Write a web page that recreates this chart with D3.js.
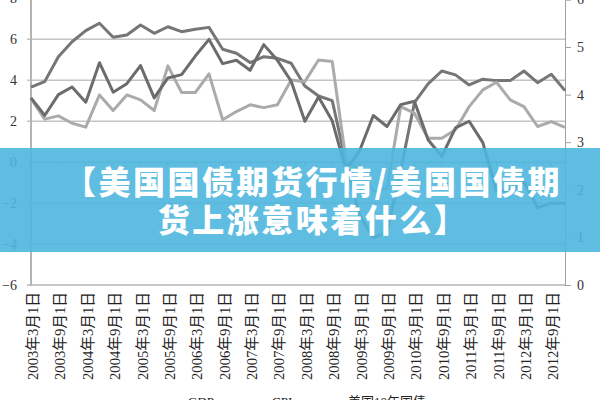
<!DOCTYPE html>
<html><head><meta charset="utf-8">
<script src="https://cdn.jsdelivr.net/npm/d3@7"></script>
<style>html,body{margin:0;padding:0;background:#fff;overflow:hidden}</style>
</head><body>
<svg id="c" width="600" height="400"></svg>
<script>
const categories = [
"2003年3月1日","2003年6月1日","2003年9月1日","2003年12月1日",
"2004年3月1日","2004年6月1日","2004年9月1日","2004年12月1日",
"2005年3月1日","2005年6月1日","2005年9月1日","2005年12月1日",
"2006年3月1日","2006年6月1日","2006年9月1日","2006年12月1日",
"2007年3月1日","2007年6月1日","2007年9月1日","2007年12月1日",
"2008年3月1日","2008年6月1日","2008年9月1日","2008年12月1日",
"2009年3月1日","2009年6月1日","2009年9月1日","2009年12月1日",
"2010年3月1日","2010年6月1日","2010年9月1日","2010年12月1日",
"2011年3月1日","2011年6月1日","2011年9月1日","2011年12月1日",
"2012年3月1日","2012年6月1日","2012年9月1日","2012年12月1日"];
const gdp = [3.66,3.93,5.15,5.88,6.42,6.78,6.10,6.21,6.70,6.29,6.61,6.37,6.49,6.58,5.51,5.32,4.86,5.15,5.07,4.83,
 3.72,3.23,3.00,0.00,-2.6,-3.7,-3.4,-0.4,2.90,3.82,4.45,4.26,3.77,4.05,3.98,3.98,4.45,3.88,4.29,3.49];
const cpi = [3.1,2.1,2.26,1.9,1.71,3.28,2.52,3.28,3.04,2.52,4.70,3.40,3.40,4.31,2.07,2.47,2.80,2.66,2.80,4.01,
 3.93,4.99,4.91,0.1,-0.4,-1.4,-1.3,2.71,2.39,1.17,1.17,1.58,2.71,3.53,3.90,3.04,2.71,1.74,1.98,1.70];
const treasury = [3.93,3.56,4.00,4.16,3.84,4.67,4.05,4.23,4.61,3.93,4.35,4.42,4.81,5.16,4.65,4.72,4.51,5.05,4.72,4.28,
 3.44,3.95,3.45,2.42,2.82,3.56,3.33,3.79,3.86,3.05,2.70,3.30,3.44,2.99,1.98,1.98,2.17,1.62,1.72,1.72];
const leftTicks = [-6,-4,-2,0,2,4,6,8];
const rightTicks = [0,1,2,3,4,5,6];
const seriesNames = ["GDP","CPI","美国10年国债"];
const titleLines = ["【美国国债期货行情/美国国债期","货上涨意味着什么】"];

const svg = d3.select("#c");
const L = 31, R = 565, B = 285;
const x = d3.scalePoint().domain(categories).range([L, R]);
const yL = d3.scaleLinear().domain([-6, 8]).range([B, -1.7]);
const yR = d3.scaleLinear().domain([0, 6]).range([B, -0.6]);
const serif = "'Liberation Serif','Noto Sans CJK SC',serif";

// gridlines
svg.append("g").selectAll("line").data(leftTicks.filter(d => d > -6)).join("line")
  .attr("x1", L - 4).attr("x2", R).attr("y1", d => yL(d)).attr("y2", d => yL(d))
  .attr("stroke", "#c4c4c4").attr("stroke-width", 1.5);
// bottom line
svg.append("line").attr("x1", L - 4).attr("x2", R).attr("y1", B).attr("y2", B)
  .attr("stroke", "#c8c8c8").attr("stroke-width", 2);
// left axis line
svg.append("line").attr("x1", L).attr("x2", L).attr("y1", -2).attr("y2", B + 1)
  .attr("stroke", "#b4b4b4").attr("stroke-width", 2);
// right axis
const ra = svg.append("g").attr("transform", `translate(${R},0)`)
  .call(d3.axisRight(yR).tickValues(rightTicks).tickSize(6).tickPadding(6).tickFormat(d3.format("d")));
ra.select(".domain").attr("stroke", "#a0a0a0");
ra.selectAll(".tick line").attr("stroke", "#a0a0a0");
ra.selectAll("text").attr("font-family", serif).attr("font-size", 14).attr("fill", "#333");
// left labels
const la = svg.append("g").attr("transform", `translate(${L},0)`)
  .call(d3.axisLeft(yL).tickValues(leftTicks).tickSize(0).tickPadding(14).tickFormat(d3.format("d")));
la.select(".domain").remove();
la.selectAll("text").attr("font-family", serif).attr("font-size", 14).attr("fill", "#333");

// category ticks on zero line
const shown = categories.filter((d, i) => i % 2 === 0);
svg.append("g").selectAll("line").data(shown).join("line")
  .attr("x1", d => x(d)).attr("x2", d => x(d)).attr("y1", yL(0)).attr("y2", yL(0) + 4)
  .attr("stroke", "#999").attr("stroke-width", 1);

// x labels
const xl = svg.append("g").selectAll("text").data(shown).join("text")
  .attr("transform", d => `translate(${x(d) + 2},292) rotate(-90)`)
  .attr("text-anchor", "end").attr("dominant-baseline", "central")
  .attr("font-family", serif).attr("font-size", 12).attr("fill", "#222")
  .text(d => d);
const len0 = xl.node().getComputedTextLength();
if (len0 > 0) xl.attr("font-size", Math.min(16, 12 * 88 / len0));

// lines
const series = [
  {vals: gdp, y: yL, color: "#767676"},
  {vals: cpi, y: yL, color: "#ababab"},
  {vals: treasury, y: yR, color: "#6c6c6c"}
];
series.forEach(s => {
  const line = d3.line().x((d, i) => x(categories[i])).y(d => s.y(d));
  svg.append("path").datum(s.vals).attr("d", line).attr("fill", "none")
    .attr("stroke", s.color).attr("stroke-width", 3).attr("stroke-linejoin", "round");
});

// legend
const legX = [188, 272, 348];
const lg = svg.append("g");
seriesNames.forEach((n, i) => {
  lg.append("line").attr("x1", legX[i] - 38).attr("x2", legX[i] - 6).attr("y1", 404).attr("y2", 404)
    .attr("stroke", series[i].color).attr("stroke-width", 3);
  lg.append("text").attr("x", legX[i]).attr("y", 406).attr("font-family", serif)
    .attr("font-size", 13).attr("fill", "#222").text(n);
});

// banner
svg.append("rect").attr("x", 0).attr("y", 148).attr("width", 600).attr("height", 104)
  .attr("fill", "rgb(76,182,222)").attr("opacity", 0.9);
svg.append("g").selectAll("text").data(titleLines).join("text")
  .attr("x", 313).attr("y", (d, i) => 194 + i * 38)
  .attr("text-anchor", "middle").attr("fill", "#fff")
  .attr("font-family", "'Noto Sans CJK SC',sans-serif").attr("font-weight", 900)
  .attr("font-size", 32).attr("letter-spacing", 2.5)
  .text(d => d);
</script>
</body></html>
